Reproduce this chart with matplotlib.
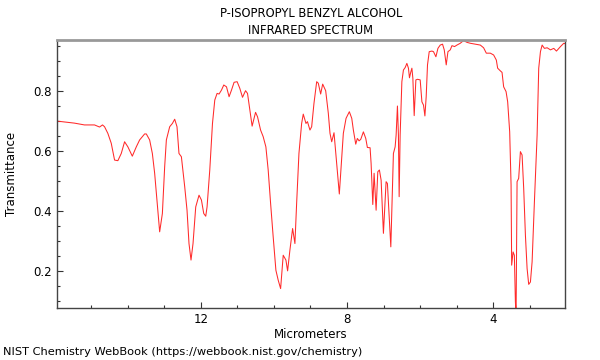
import numpy as np
import matplotlib
matplotlib.use("Agg")
import matplotlib.pyplot as plt
from matplotlib.ticker import MultipleLocator

# spectrum (micrometers, transmittance)
um = [15.945, 15.726, 15.452, 15.178, 14.904, 14.767, 14.685, 14.630, 14.540, 14.447,
      14.356, 14.266, 14.173, 14.082, 13.992, 13.871, 13.762, 13.671, 13.534, 13.488,
      13.397, 13.323, 13.260, 13.197, 13.123, 13.049, 12.986, 12.940, 12.849, 12.775,
      12.712, 12.649, 12.595, 12.529, 12.438, 12.375, 12.321, 12.266, 12.211, 12.137,
      12.047, 11.981, 11.918, 11.863, 11.827, 11.753, 11.679, 11.616, 11.553, 11.499,
      11.433, 11.370, 11.296, 11.225, 11.159, 11.088, 11.005, 10.932, 10.858, 10.775,
      10.721, 10.658, 10.595, 10.501, 10.447, 10.364, 10.293, 10.219, 10.156, 10.090,
      10.019, 9.945, 9.882, 9.816, 9.745, 9.671, 9.625, 9.562, 9.488, 9.425,
      9.378, 9.315, 9.241, 9.197, 9.123, 9.082, 9.014, 8.967, 8.904, 8.830,
      8.786, 8.721, 8.666, 8.584, 8.512, 8.466, 8.419, 8.356, 8.282, 8.211,
      8.145, 8.101, 8.027, 7.937, 7.871, 7.827, 7.762, 7.718, 7.671, 7.625,
      7.553, 7.488, 7.444, 7.370, 7.342, 7.296, 7.260, 7.205, 7.159, 7.115,
      7.068, 7.005, 6.932, 6.896, 6.803, 6.732, 6.685, 6.658, 6.622, 6.595,
      6.575, 6.548, 6.501, 6.458, 6.411, 6.364, 6.321, 6.293, 6.255, 6.227,
      6.200, 6.164, 6.118, 6.074, 6.000, 5.953, 5.909, 5.871, 5.836, 5.800,
      5.753, 5.679, 5.636, 5.570, 5.515, 5.452, 5.389, 5.342, 5.288, 5.241,
      5.178, 5.131, 5.060, 4.995, 4.904, 4.814, 4.721, 4.630, 4.493, 4.356,
      4.266, 4.192, 4.082, 3.992, 3.918, 3.882, 3.808, 3.762, 3.718, 3.652,
      3.608, 3.553, 3.515, 3.499, 3.460, 3.425, 3.397, 3.378, 3.351, 3.307,
      3.260, 3.214, 3.170, 3.123, 3.077, 3.033, 2.986, 2.940, 2.877, 2.803,
      2.759, 2.712, 2.666, 2.603, 2.529, 2.438, 2.348, 2.274, 2.164, 2.074,
      2.000]
trans = [0.700, 0.697, 0.693, 0.687, 0.687, 0.680, 0.687, 0.681, 0.659, 0.626,
         0.570, 0.568, 0.592, 0.631, 0.614, 0.583, 0.614, 0.637, 0.657, 0.657,
         0.637, 0.592, 0.526, 0.437, 0.331, 0.392, 0.548, 0.637, 0.681, 0.692,
         0.706, 0.681, 0.592, 0.581, 0.481, 0.403, 0.292, 0.237, 0.292, 0.414,
         0.453, 0.437, 0.392, 0.383, 0.414, 0.537, 0.692, 0.770, 0.792, 0.790,
         0.803, 0.820, 0.814, 0.781, 0.803, 0.829, 0.831, 0.809, 0.779, 0.801,
         0.792, 0.737, 0.683, 0.729, 0.714, 0.670, 0.648, 0.614, 0.537, 0.426,
         0.314, 0.203, 0.170, 0.142, 0.253, 0.237, 0.201, 0.270, 0.342, 0.292,
         0.426, 0.592, 0.692, 0.723, 0.692, 0.698, 0.670, 0.681, 0.759, 0.831,
         0.826, 0.790, 0.823, 0.801, 0.726, 0.659, 0.631, 0.661, 0.559, 0.457,
         0.581, 0.659, 0.709, 0.731, 0.709, 0.670, 0.623, 0.642, 0.634, 0.639,
         0.664, 0.642, 0.612, 0.611, 0.559, 0.422, 0.526, 0.403, 0.531, 0.537,
         0.503, 0.326, 0.498, 0.492, 0.281, 0.592, 0.614, 0.653, 0.750, 0.653,
         0.448, 0.653, 0.831, 0.870, 0.878, 0.892, 0.876, 0.844, 0.864, 0.876,
         0.842, 0.718, 0.837, 0.839, 0.837, 0.764, 0.753, 0.717, 0.781, 0.887,
         0.931, 0.933, 0.931, 0.914, 0.942, 0.953, 0.956, 0.937, 0.887, 0.931,
         0.937, 0.951, 0.948, 0.953, 0.959, 0.968, 0.962, 0.959, 0.956, 0.953,
         0.944, 0.926, 0.926, 0.920, 0.903, 0.876, 0.867, 0.862, 0.814, 0.798,
         0.764, 0.664, 0.487, 0.220, 0.264, 0.253, 0.098, 0.053, 0.498, 0.509,
         0.598, 0.587, 0.476, 0.320, 0.209, 0.156, 0.164, 0.231, 0.431, 0.653,
         0.876, 0.931, 0.953, 0.942, 0.944, 0.937, 0.942, 0.933, 0.948, 0.959,
         0.956]

fig = plt.figure(figsize=(6, 3.6), dpi=100)
ax = fig.add_axes([0.095, 0.145, 0.8467, 0.744])

ax.plot(um, trans, color="#ff2a2a", lw=0.75)
ax.set_xlim(15.93, 2.04)
ax.set_ylim(0.078, 0.97)

ax.xaxis.set_major_locator(MultipleLocator(4))
ax.xaxis.set_minor_locator(MultipleLocator(1))
ax.yaxis.set_major_locator(MultipleLocator(0.2))
ax.yaxis.set_minor_locator(MultipleLocator(0.05))
ax.set_yticks([0.2, 0.4, 0.6, 0.8])
ax.set_yticklabels(["0.2", "0.4", "0.6", "0.8"])
ax.tick_params(which="both", direction="in", colors="#333333", labelsize=8.5, width=0.8)
ax.tick_params(which="major", length=4)
ax.tick_params(which="minor", length=2.5)
ax.tick_params(labelcolor="black")

for s in ["left", "bottom", "right"]:
    ax.spines[s].set_color("#444444")
    ax.spines[s].set_linewidth(1.0)
ax.spines["top"].set_color("#999999")
ax.spines["top"].set_linewidth(2.0)

ax.set_xlabel("Micrometers", fontsize=8.5, labelpad=2)
ax.set_ylabel("Transmittance", fontsize=8.5, labelpad=11)

fig.text(0.518, 0.962, "P-ISOPROPYL BENZYL ALCOHOL", ha="center", va="center", fontsize=8.3)
fig.text(0.518, 0.915, "INFRARED SPECTRUM", ha="center", va="center", fontsize=8.3)
fig.text(0.005, 0.022, "NIST Chemistry WebBook (https://webbook.nist.gov/chemistry)",
         ha="left", va="center", fontsize=8.2)

fig.savefig("out.png", dpi=100)
